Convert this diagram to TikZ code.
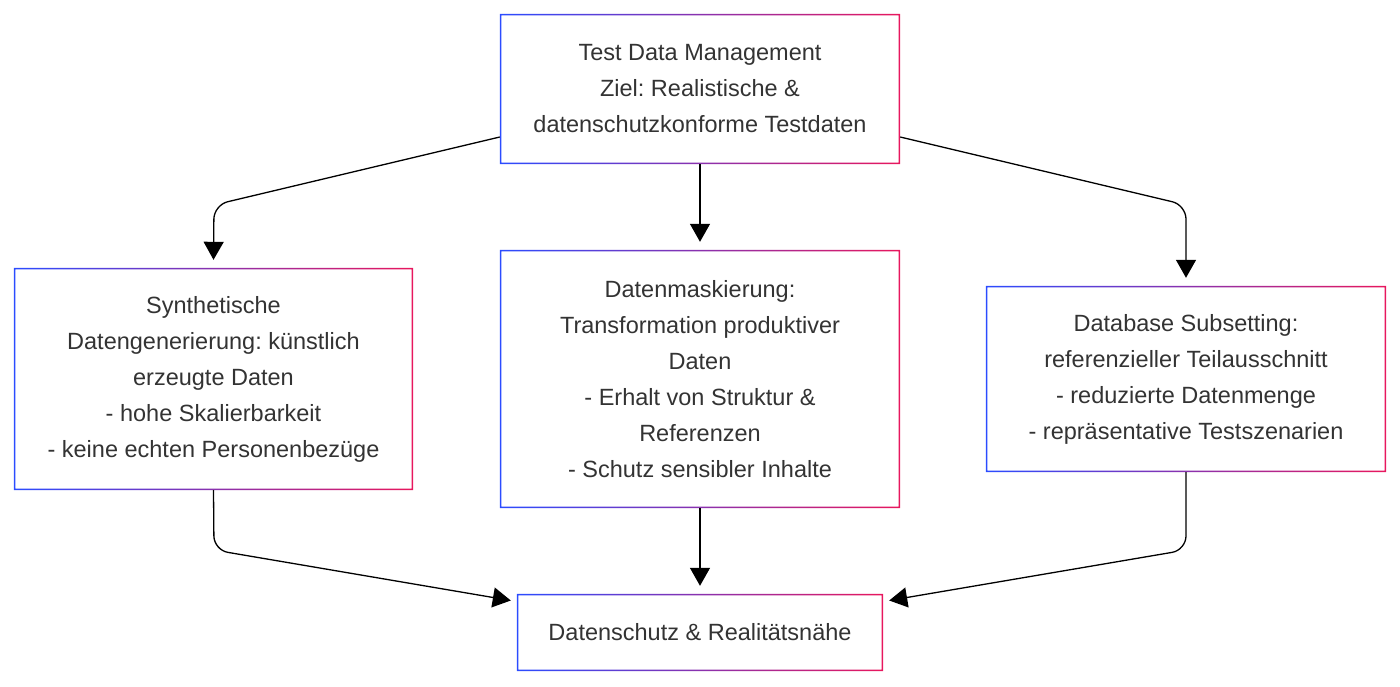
\documentclass[tikz,border=0pt]{standalone}
\usepackage{fontspec}
\setmainfont{Liberation Sans}
\usetikzlibrary{arrows.meta}
\definecolor{bblue}{HTML}{2B4CFF}
\definecolor{bpink}{HTML}{E8175D}
\definecolor{txt}{HTML}{333333}
\tikzset{
  box/.style={align=center, text=txt, inner sep=0pt,
    font=\fontsize{23.5}{36}\selectfont\frenchspacing},
  conn/.style={line width=1.3pt, rounded corners=14pt, -{Triangle[length=18pt,width=20pt]}}
}
\newcommand{\gradframe}[1]{%
  \shade[left color=bblue, right color=bpink, even odd rule]
    (#1.south west) rectangle (#1.north east)
    ([shift={(1.6pt,1.6pt)}]#1.south west) rectangle ([shift={(-1.6pt,-1.6pt)}]#1.north east);}
\begin{document}
\begin{tikzpicture}[x=1pt,y=-1pt]
\useasboundingbox (0,0) rectangle (1400,686);
\node[box, minimum width=400pt, minimum height=150pt] (tdm) at (700,89)
  {Test Data Management\\Ziel: Realistische \&\\datenschutzkonforme Testdaten};
\node[box, minimum width=399pt, minimum height=222pt] (syn) at (213.5,379)
  {Synthetische\\Datengenerierung: künstlich\\erzeugte Daten\\- hohe Skalierbarkeit\\- keine echten Personenbezüge};
\node[box, minimum width=400pt, minimum height=258pt] (mask) at (700,379)
  {Datenmaskierung:\\Transformation produktiver\\Daten\\- Erhalt von Struktur \&\\Referenzen\\- Schutz sensibler Inhalte};
\node[box, minimum width=400pt, minimum height=186pt] (sub) at (1186,379)
  {Database Subsetting:\\referenzieller Teilausschnitt\\- reduzierte Datenmenge\\- repräsentative Testszenarien};
\node[box, minimum width=366pt, minimum height=77pt] (res) at (700,632.5)
  {Datenschutz \& Realitätsnähe};
\foreach \n in {tdm,syn,mask,sub,res}{\gradframe{\n}}

\draw[conn] ([yshift=-48pt]tdm.west) -- (214,205) -- ([yshift=8pt]syn.north);
\draw[conn] (tdm.south) -- ([yshift=8pt]mask.north);
\draw[conn] ([yshift=-48pt]tdm.east) -- (1186,205) -- ([yshift=8pt]sub.north);
\draw[conn] (syn.south) -- (214,550) -- ([shift={(-6pt,32pt)}]res.west);
\draw[conn] (mask.south) -- ([yshift=8pt]res.north);
\draw[conn] (sub.south) -- (1186,550) -- ([shift={(6pt,32pt)}]res.east);
\end{tikzpicture}
\end{document}
